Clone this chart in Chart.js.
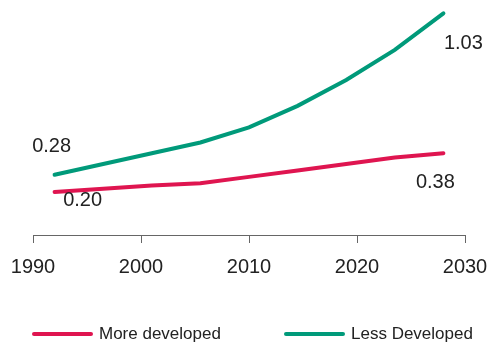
<!DOCTYPE html>
<html>
<head>
<meta charset="utf-8">
<script src="https://cdn.jsdelivr.net/npm/chart.js@4/dist/chart.umd.min.js"></script>
<style>
  html, body { margin: 0; padding: 0; background: #fff; }
  #wrap { position: relative; width: 488px; height: 345px; }
  #legend { position: absolute; left: 0; top: 323px; width: 488px; height: 22px;
            font-family: "Liberation Sans", Arial, sans-serif; font-size: 17px; color: #222; }
  .item { position: absolute; top: 0; display: flex; align-items: center; height: 22px; }
  .swatch { width: 61px; height: 4px; border-radius: 2px; margin-right: 6px; }
</style>
</head>
<body>
<div id="wrap">
  <canvas id="chart" width="488" height="345"></canvas>
  <div id="legend"></div>
</div>
<script>
var years = [1992, 1996.5, 2001, 2005.5, 2010, 2014.5, 2019, 2023.5, 2028];
var moreDeveloped = [0.20, 0.215, 0.23, 0.24, 0.27, 0.30, 0.33, 0.36, 0.38];
var lessDeveloped = [0.28, 0.33, 0.38, 0.43, 0.50, 0.60, 0.72, 0.86, 1.03];
var xTicks = [1990, 2000, 2010, 2020, 2030];
var seriesNames = ["More developed", "Less Developed"];
var seriesColors = ["#DF1550", "#009A7A"];

var FONT = "'Liberation Sans', Arial, sans-serif";

function toPoints(values) {
    return values.map(function(v, i) { return { x: years[i], y: v }; });
}

// end labels: [dataset, point index, dx, dy]
var endLabels = [
    [1, 0, -3, -28],
    [0, 0, 28, 9],
    [0, years.length - 1, -8, 29],
    [1, years.length - 1, 20, 30]
];

var endLabelPlugin = {
    id: "endLabels",
    afterDatasetsDraw: function(chart) {
        var ctx = chart.ctx;
        ctx.save();
        ctx.font = "20px " + FONT;
        ctx.fillStyle = "#222";
        ctx.textAlign = "center";
        ctx.textBaseline = "middle";
        endLabels.forEach(function(l) {
            var pt = chart.getDatasetMeta(l[0]).data[l[1]];
            var val = chart.data.datasets[l[0]].data[l[1]].y;
            ctx.fillText(val.toFixed(2), pt.x + l[2], pt.y + l[3]);
        });
        ctx.restore();
    }
};

var chart = new Chart(document.getElementById("chart"), {
    type: "line",
    data: {
        datasets: [
            {
                label: seriesNames[0],
                data: toPoints(moreDeveloped),
                borderColor: seriesColors[0],
                borderWidth: 4,
                borderCapStyle: "round",
                pointRadius: 0,
                tension: 0,
                fill: false
            },
            {
                label: seriesNames[1],
                data: toPoints(lessDeveloped),
                borderColor: seriesColors[1],
                borderWidth: 4,
                borderCapStyle: "round",
                pointRadius: 0,
                tension: 0,
                fill: false
            }
        ]
    },
    options: {
        responsive: false,
        animation: false,
        layout: { padding: { left: 33, right: 23, top: 9, bottom: 54 } },
        plugins: {
            legend: { display: false },
            tooltip: { enabled: false }
        },
        scales: {
            x: {
                type: "linear",
                min: 1990,
                max: 2030,
                afterBuildTicks: function(axis) {
                    axis.ticks = xTicks.map(function(v) { return { value: v }; });
                },
                afterFit: function(axis) {
                    // let the edge labels hang into the layout padding
                    axis.paddingLeft = 0;
                    axis.paddingRight = 0;
                },
                grid: { drawOnChartArea: false, drawTicks: true, tickLength: 8, color: "#666" },
                border: { display: true, color: "#666", width: 1 },
                ticks: {
                    padding: 12,
                    maxRotation: 0,
                    color: "#222",
                    font: { family: FONT, size: 20 },
                    callback: function(v) { return String(v); }
                }
            },
            y: {
                display: false,
                min: 0,
                max: 1.05
            }
        }
    },
    plugins: [endLabelPlugin]
});

// html legend built from the datasets
var legendLeft = [32, 284];
var legend = document.getElementById("legend");
chart.data.datasets.forEach(function(ds, i) {
    var item = document.createElement("div");
    item.className = "item";
    item.style.left = legendLeft[i] + "px";
    var sw = document.createElement("span");
    sw.className = "swatch";
    sw.style.background = ds.borderColor;
    var txt = document.createElement("span");
    txt.textContent = ds.label;
    item.appendChild(sw);
    item.appendChild(txt);
    legend.appendChild(item);
});
</script>
</body>
</html>
